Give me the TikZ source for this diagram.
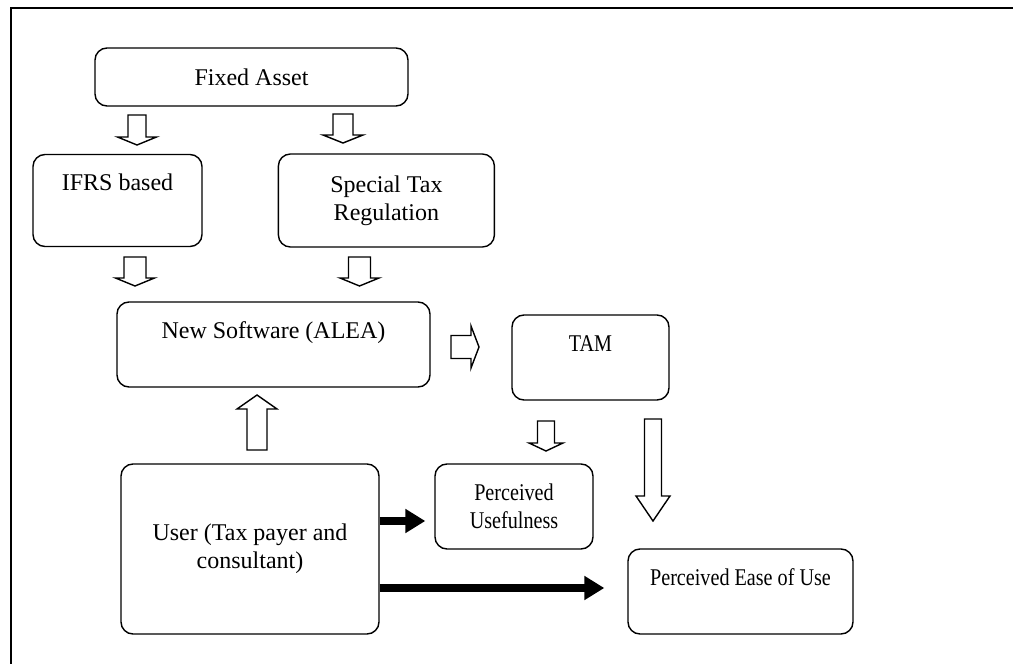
\documentclass[tikz,border=0pt]{standalone}
\usepackage{fontspec}
\setmainfont{Liberation Serif}
\newfontfamily\narrowfont[FakeStretch=0.84]{Liberation Serif}
\usetikzlibrary{positioning,arrows.meta}
\tikzset{
  box/.style={rectangle, rounded corners=6pt, draw=black, line width=0.7pt, inner sep=0pt, align=center},
  topbox/.style={box, text height=18pt, text depth=#1},
  narrow/.style={font=\fontsize{12pt}{13.8pt}\narrowfont},
  blk/.style={draw=black, line width=0.7pt, fill=white, line join=miter},
  fat/.style={line width=4pt, -{Triangle[length=10pt,width=11.5pt]}}
}
% hollow block arrow: centre, angle, length, shaft, head, head length
\newcommand{\blockarrow}[6]{%
  \draw[blk, shift={#1}, rotate=#2] (-#3/2,-#4/2) -- (#3/2-#6,-#4/2) -- (#3/2-#6,-#5/2) -- (#3/2,0)
    -- (#3/2-#6,#5/2) -- (#3/2-#6,#4/2) -- (-#3/2,#4/2) -- cycle;}

\begin{document}
\begin{tikzpicture}[x=0.5pt, y=-0.5pt, font=\fontsize{12pt}{13.8pt}\selectfont]
  \useasboundingbox (0,0) rectangle (1013,664);
  % frame
  \draw[line width=1pt] (11,664) -- (11,8) -- (1013,8);

  \node (Fixed) [box, minimum width=156.5pt, minimum height=29pt] at (251.5,77) {Fixed Asset};
  \node (IFRS) [topbox=28pt, minimum width=84.5pt] at (117.5,200.5) {IFRS based};
  \node (Special) [box, minimum width=108pt, minimum height=46.5pt, right=37.5pt of IFRS] {Special Tax\\Regulation};
  \node (Software) [topbox=24.5pt, minimum width=156.5pt] at (273.5,344.5) {New Software (ALEA)};
  \node (TAM) [topbox=24.5pt, narrow, minimum width=78.5pt] at (590.5,357.5) {TAM};
  \node (User) [box, minimum width=129pt, minimum height=85pt] at (250,549) {User (Tax payer and\\consultant)};
  \node (Useful) [box, narrow, minimum width=79pt, minimum height=42.5pt] at (514,506.5) {Perceived\\Usefulness};
  \node (Ease) [topbox=24.5pt, narrow, minimum width=112.5pt] at (740.5,591.5) {Perceived Ease of Use};

  % block arrows
  \blockarrow{(137,130)}{-90}{30}{18}{39}{8}
  \blockarrow{(343,128.5)}{-90}{29}{20}{40}{8}
  \blockarrow{(135,271.5)}{-90}{29}{22}{39}{8}
  \blockarrow{(359.5,271.5)}{-90}{29}{22}{39}{8}
  \blockarrow{(465,347)}{0}{28}{23}{42}{8}
  \blockarrow{(257,422.5)}{90}{55}{20}{40}{14}
  \blockarrow{(546,436)}{-90}{30}{17}{34}{8}
  \blockarrow{(653,470)}{-90}{102}{17}{34}{25}

  % solid arrows
  \draw[fat] ([yshift=14pt]User.east) coordinate (u1) -- ([xshift=-4.5pt]Useful.west |- u1);
  \draw[fat] ([yshift=-19.5pt]User.east) coordinate (u2) -- ([xshift=-11.5pt]Ease.west |- u2);
\end{tikzpicture}
\end{document}
